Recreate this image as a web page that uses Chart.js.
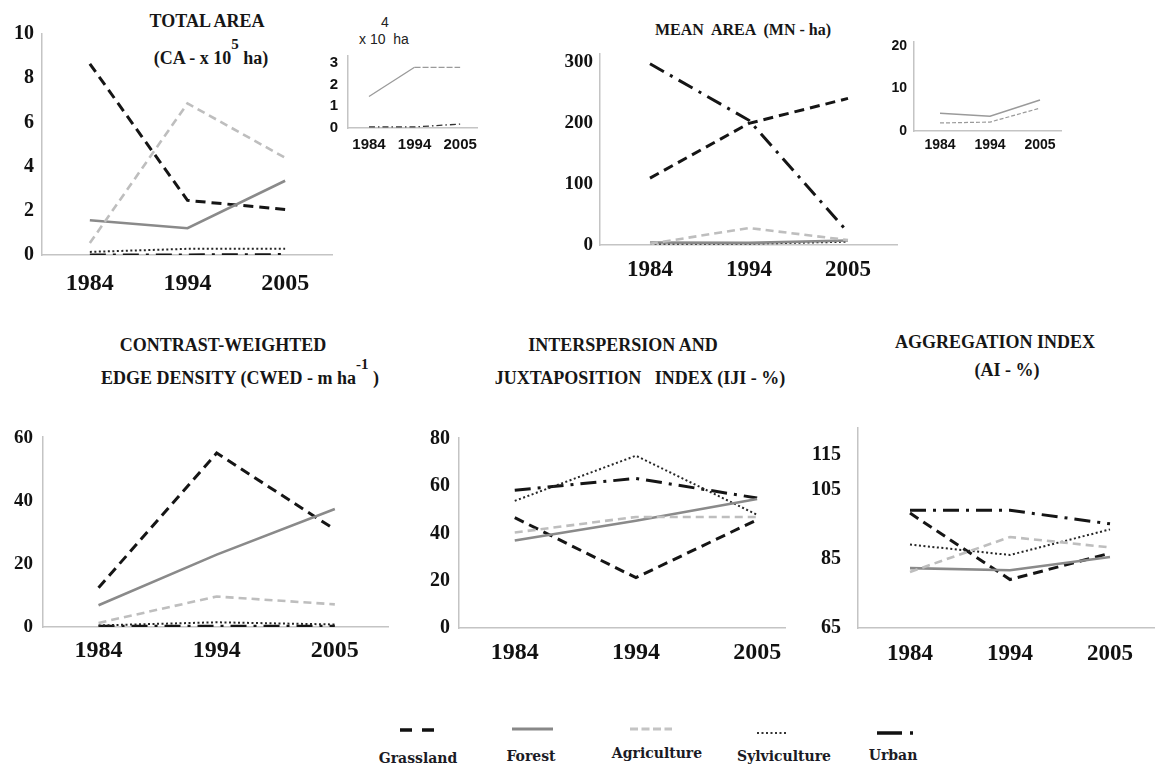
<!DOCTYPE html>
<html>
<head>
<meta charset="utf-8">
<script src="https://cdn.jsdelivr.net/npm/chart.js@4"></script>
<style>
body{margin:0;background:#fff}
#fig{position:relative;width:1155px;height:767px;overflow:hidden;font-family:"Liberation Serif",serif;color:#161616}
#fig canvas{position:absolute}
.t{position:absolute;transform:translate(-50%,-50%);font-weight:bold;font-size:18px;white-space:pre;line-height:1}
.t sup{font-size:15px;vertical-align:baseline;position:relative;top:-15px}
.s{position:absolute;transform:translate(-50%,-50%);font-family:"Liberation Sans",sans-serif;font-size:14px;color:#222;white-space:pre;line-height:1}
.lg{position:absolute;transform:translate(-50%,-50%);font-family:"DejaVu Serif",serif;font-weight:bold;font-size:14px;color:#1b1b25;line-height:1}
</style>
</head>
<body>
<div id="fig">
  <div class="t" style="left:207px;top:21px">TOTAL AREA</div>
  <div class="t" style="left:211px;top:58px">(CA - x 10<sup>5</sup> ha)</div>
  <div class="s" style="left:385px;top:22px">4</div>
  <div class="s" style="left:384px;top:39px">x 10  ha</div>
  <div class="t" style="left:743px;top:30px;font-size:16px">MEAN  AREA  (MN - ha)</div>
  <div class="t" style="left:223px;top:345px">CONTRAST-WEIGHTED</div>
  <div class="t" style="left:240px;top:378px">EDGE DENSITY (CWED - m ha<sup>-1</sup> )</div>
  <div class="t" style="left:623px;top:345px">INTERSPERSION AND</div>
  <div class="t" style="left:640px;top:378px">JUXTAPOSITION   INDEX (IJI - %)</div>
  <div class="t" style="left:995px;top:342px">AGGREGATION INDEX</div>
  <div class="t" style="left:1007px;top:370px">(AI - %)</div>

  <canvas id="c1"></canvas>
  <canvas id="c6"></canvas>
  <canvas id="c2"></canvas>
  <canvas id="c7"></canvas>
  <canvas id="c3"></canvas>
  <canvas id="c4"></canvas>
  <canvas id="c5"></canvas>

  <svg style="position:absolute;left:0;top:720px" width="1155" height="20">
    <line x1="400" y1="10" x2="434" y2="10" stroke="#111" stroke-width="3.5" stroke-dasharray="12 10"/>
    <line x1="512" y1="9" x2="553" y2="9" stroke="#888" stroke-width="3"/>
    <line x1="630" y1="9" x2="672" y2="9" stroke="#c4c4c4" stroke-width="3" stroke-dasharray="8 3.5"/>
    <line x1="757" y1="13" x2="788" y2="13" stroke="#333" stroke-width="2" stroke-dasharray="2 2.5"/>
    <line x1="877" y1="13" x2="913" y2="13" stroke="#111" stroke-width="3.5" stroke-dasharray="25 8 3 20"/>
  </svg>
  <div class="lg" style="left:418px;top:758px">Grassland</div>
  <div class="lg" style="left:531px;top:756px">Forest</div>
  <div class="lg" style="left:657px;top:753px">Agriculture</div>
  <div class="lg" style="left:784px;top:756px">Sylviculture</div>
  <div class="lg" style="left:893px;top:755px">Urban</div>
</div>
<script>
const years = ['1984', '1994', '2005'];

// total area, x10^5 ha
const caGrassland = [8.65, 2.47, 2.06];
const caForest = [1.57, 1.21, 3.36];
const caAgriculture = [0.54, 6.86, 4.4];
const caSylviculture = [0.14, 0.28, 0.28];
const caUrban = [0.005, 0.005, 0.018];
const caTicks = [0, 2, 4, 6, 8, 10];
// inset, x10^4 ha
const caInsetSylv = [1.45, 2.8, 2.8];
const caInsetUrban = [0.05, 0.05, 0.18];
const caInsetTicks = [0, 1, 2, 3];

// mean area, ha
const mnGrassland = [110, 200, 241];
const mnForest = [4.2, 3.5, 7.3];
const mnAgriculture = [2, 28, 8];
const mnSylviculture = [1.9, 2.1, 5.4];
const mnUrban = [298, 205, 21];
const mnTicks = [0, 100, 200, 300];
const mnInsetTicks = [0, 10, 20];

// contrast-weighted edge density, m/ha
const cwGrassland = [12.5, 55.3, 31];
const cwForest = [6.9, 23, 37.5];
const cwAgriculture = [1.3, 9.7, 7.2];
const cwSylviculture = [0.5, 1.5, 0.8];
const cwUrban = [0.2, 0.2, 0.2];
const cwTicks = [0, 20, 40, 60];

// interspersion and juxtaposition, %
const ijiGrassland = [46.7, 21.3, 45.8];
const ijiForest = [37, 45.4, 54.6];
const ijiAgriculture = [40.4, 47, 47];
const ijiSylviculture = [53.8, 72.9, 47.9];
const ijiUrban = [58.3, 63.3, 55];
const ijiTicks = [0, 20, 40, 60, 80];

// aggregation index, %
const aiGrassland = [98.2, 79, 86.6];
const aiForest = [82.3, 81.7, 85.5];
const aiAgriculture = [81.2, 91.3, 88.3];
const aiSylviculture = [89.1, 86.1, 93.5];
const aiUrban = [99, 99, 95.1];
const aiTicks = [65, 85, 105, 115];

const look = {
  Grassland:    {color:'#151515', width:3,   dash:[10,6]},
  Forest:       {color:'#8a8a8a', width:2.6, dash:[]},
  Agriculture:  {color:'#bebebe', width:2.6, dash:[8,5]},
  Sylviculture: {color:'#262626', width:2,   dash:[2,2.5]},
  Urban:        {color:'#151515', width:3,   dash:[16,7,3,7]}
};

function ds(name, values, st){
  st = st || look[name];
  return {label:name, data:values.map((v,i)=>({x:i,y:v})), borderColor:st.color, borderWidth:st.width,
    borderDash:st.dash, pointRadius:0, tension:0, fill:false, segment:st.segment};
}
function five(g,f,a,s,u){
  return [ds('Agriculture',a), ds('Forest',f), ds('Sylviculture',s), ds('Grassland',g), ds('Urban',u)];
}

function panel(id, p){
  const el = document.getElementById(id);
  const padT = 18, padR = 12, yw = 60, xh = 44;
  const left = p.axisX - yw, top = p.topY - padT;
  el.width = p.rightX + padR - left; el.height = p.bottomY + xh - top;
  el.style.left = left + 'px'; el.style.top = top + 'px';
  const fam = p.sans ? '"Liberation Sans", sans-serif' : '"Liberation Serif", serif';
  const axisBorder = {color:'#c4c4c4', width:1.5};
  new Chart(el, {
    type:'line',
    data:{datasets:p.sets},
    options:{
      responsive:false, animation:false,
      layout:{padding:{left:0, top:padT, right:padR, bottom:0}},
      plugins:{legend:{display:false}, tooltip:{enabled:false}},
      scales:{
        x:{type:'linear', min:p.xMin, max:p.xMax,
           afterBuildTicks:s=>{s.ticks = years.map((y,i)=>({value:i}));},
           afterFit:s=>{s.height = xh;},
           grid:{display:false, drawTicks:false}, border:axisBorder,
           ticks:{callback:v=>years[v], autoSkip:false, maxRotation:0, padding:p.xPad,
                  color:'#111', font:{family:fam, weight:'bold', size:p.xFont}}},
        y:{min:p.yMin || 0, max:p.yMax,
           afterBuildTicks:s=>{s.ticks = p.yTicks.map(v=>({value:v}));},
           afterFit:s=>{s.width = yw;},
           grid:{display:false, drawTicks:false}, border:axisBorder,
           ticks:{autoSkip:false, padding:p.yPad, color:'#111', font:{family:fam, weight:'bold', size:p.yFont}}}
      }
    }
  });
}

window.addEventListener('load', ()=>{
  panel('c1', {axisX:42, rightX:332, topY:32, bottomY:255, yMax:10, xMin:-0.49, xMax:2.48,
    yTicks:caTicks, yFont:20, xFont:24, yPad:8, xPad:14,
    sets:five(caGrassland, caForest, caAgriculture, caSylviculture, caUrban)});
  panel('c6', {axisX:348, rightX:477, topY:55, bottomY:128, yMax:3.32, xMin:-0.46, xMax:2.37,
    yTicks:caInsetTicks, yFont:15, xFont:15, yPad:10, xPad:8, sans:true,
    sets:[ds('Sylviculture', caInsetSylv, {color:'#9a9a9a', width:1.3, dash:[],
            segment:{borderDash:c=>c.p0DataIndex===1 ? [6,2] : undefined}}),
          ds('Urban', caInsetUrban, {color:'#333', width:1.3, dash:[6,3,1.5,3]})]});
  panel('c2', {axisX:600, rightX:897, topY:53, bottomY:245, yMax:315, xMin:-0.505, xMax:2.495,
    yTicks:mnTicks, yFont:19, xFont:23, yPad:7, xPad:11,
    sets:five(mnGrassland, mnForest, mnAgriculture, mnSylviculture, mnUrban)});
  panel('c7', {axisX:914, rightX:1061, topY:42, bottomY:131, yMax:21, xMin:-0.52, xMax:2.42,
    yTicks:mnInsetTicks, yFont:14, xFont:14, yPad:7, xPad:6, sans:true,
    sets:[ds('Forest', mnForest, {color:'#9a9a9a', width:1.5, dash:[]}),
          ds('Sylviculture', mnSylviculture, {color:'#9a9a9a', width:1.2, dash:[4,2]})]});
  panel('c3', {axisX:43, rightX:388, topY:433, bottomY:627, yMax:60.6, xMin:-0.47, xMax:2.45,
    yTicks:cwTicks, yFont:19, xFont:24, yPad:10, xPad:9,
    sets:five(cwGrassland, cwForest, cwAgriculture, cwSylviculture, cwUrban)});
  panel('c4', {axisX:459, rightX:785, topY:435, bottomY:628, yMax:80.4, xMin:-0.46, xMax:2.23,
    yTicks:ijiTicks, yFont:20, xFont:24, yPad:9, xPad:10,
    sets:five(ijiGrassland, ijiForest, ijiAgriculture, ijiSylviculture, ijiUrban)});
  panel('c5', {axisX:858, rightX:1155, topY:417, bottomY:628, yMin:65, yMax:122.8, xMin:-0.52, xMax:2.45,
    yTicks:aiTicks, yFont:20, xFont:23, yPad:17, xPad:12,
    sets:five(aiGrassland, aiForest, aiAgriculture, aiSylviculture, aiUrban)});
});
</script>
</body>
</html>
